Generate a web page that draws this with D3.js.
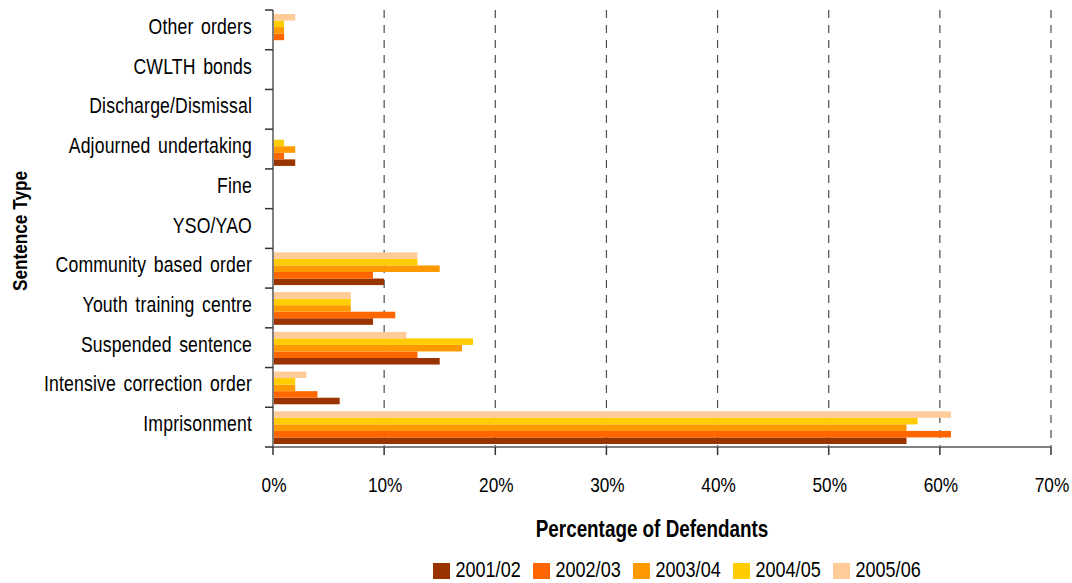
<!DOCTYPE html>
<html><head><meta charset="utf-8">
<script src="https://cdn.jsdelivr.net/npm/d3@7"></script>
<style>
body{margin:0;background:#fff;}
text{fill:#000;}
</style></head>
<body><svg id="c" width="1072" height="583"></svg>
<script>
const categories = ["Other orders","CWLTH bonds","Discharge/Dismissal","Adjourned undertaking","Fine","YSO/YAO","Community based order","Youth training centre","Suspended sentence","Intensive correction order","Imprisonment"];
const seriesNames = ["2001/02","2002/03","2003/04","2004/05","2005/06"];
const v2001 = [0,0,0,2,0,0,10,9,15,6,57];
const v2002 = [1,0,0,1,0,0,9,11,13,4,61];
const v2003 = [1,0,0,2,0,0,15,7,17,2,57];
const v2004 = [1,0,0,1,0,0,13,7,18,2,58];
const v2005 = [2,0,0,0,0,0,13,7,12,3,61];
const colors = ["#993300","#FF6600","#FF9900","#FFCC00","#FFCC99"];
const xTicks = [0,10,20,30,40,50,60,70];

const seriesValues = [v2001,v2002,v2003,v2004,v2005];
const svg = d3.select("#c");
const mLeft = 273, mRight = 1051, mTop = 10, mBottom = 447;

// font detection: use narrow font if installed, else horizontally scale regular font
const probe = svg.append("text").attr("font-size",40).text("Percentage Defendants");
probe.attr("font-family","'Liberation Sans Narrow', monospace");
const wN = probe.node().getComputedTextLength();
probe.attr("font-family","monospace");
const wM = probe.node().getComputedTextLength();
probe.remove();
const hasNarrow = Math.abs(wN - wM) > 1;
const FONT = hasNarrow ? "'Liberation Sans Narrow', 'Arial Narrow', sans-serif" : "'Liberation Sans', Arial, sans-serif";
const SX = hasNarrow ? 1 : 0.82;
function place(sel, fx, fy) {
  return sel.attr("font-family", FONT)
    .attr("transform", (d,i)=>`translate(${fx(d,i)},${fy(d,i)}) scale(${SX},1)`);
}

const x = d3.scaleLinear().domain([0,70]).range([mLeft,mRight]);
const y = d3.scaleBand().domain(categories).range([mTop,mBottom]).paddingInner(0).paddingOuter(0);
const yInner = d3.scaleBand().domain(seriesNames.slice().reverse()).range([4,y.bandwidth()-3]);

svg.append("g").selectAll("line").data(xTicks.filter(d=>d>0)).join("line")
  .attr("x1",d=>x(d)).attr("x2",d=>x(d)).attr("y1",mTop).attr("y2",mBottom)
  .attr("stroke","#4d4d4d").attr("stroke-width",1.2).attr("stroke-dasharray","8,7");

const rows = [];
categories.forEach((c,i)=>seriesNames.forEach((s,j)=>rows.push({c,s,j,v:seriesValues[j][i]})));
svg.append("g").selectAll("rect").data(rows.filter(d=>d.v>0)).join("rect")
  .attr("x",x(0)).attr("y",d=>y(d.c)+yInner(d.s))
  .attr("width",d=>x(d.v)-x(0)).attr("height",yInner.bandwidth())
  .attr("fill",d=>colors[d.j]);

const yAxis = svg.append("g");
yAxis.append("line").attr("x1",mLeft).attr("x2",mLeft).attr("y1",mTop).attr("y2",mBottom).attr("stroke","#808080").attr("stroke-width",2);
const bounds = categories.map(c=>y(c)).concat([mBottom]);
yAxis.selectAll("line.t").data(bounds).join("line").attr("class","t")
  .attr("x1",mLeft-8).attr("x2",mLeft).attr("y1",d=>d).attr("y2",d=>d).attr("stroke","#333").attr("stroke-width",1.5);
place(yAxis.selectAll("text").data(categories).join("text")
  .attr("text-anchor","end").attr("font-size",21.5)
  .attr("letter-spacing",0.2).attr("word-spacing",3).text(d=>d),
  d=>mLeft-21, d=>y(d)+y.bandwidth()/2+4);

const xAxis = svg.append("g");
xAxis.append("line").attr("x1",mLeft).attr("x2",mRight).attr("y1",mBottom).attr("y2",mBottom).attr("stroke","#808080").attr("stroke-width",2);
xAxis.selectAll("line.t").data(xTicks).join("line").attr("class","t")
  .attr("x1",d=>x(d)).attr("x2",d=>x(d)).attr("y1",mBottom).attr("y2",mBottom+8).attr("stroke","#333").attr("stroke-width",1.5);
place(xAxis.selectAll("text").data(xTicks).join("text")
  .attr("text-anchor","middle").attr("font-size",21).text(d=>d+"%"),
  d=>x(d)+1, d=>mBottom+45);

place(svg.append("text").datum(0).attr("text-anchor","middle").attr("font-size",23).attr("font-weight","bold").text("Percentage of Defendants"),
  ()=>652, ()=>537);
svg.append("text").attr("font-family",FONT)
  .attr("transform",`translate(27,231) rotate(-90) scale(${SX},1)`)
  .attr("text-anchor","middle").attr("font-size",21).attr("font-weight","bold").text("Sentence Type");

const lg = svg.append("g").selectAll("g").data(seriesNames).join("g")
  .attr("transform",(d,i)=>`translate(${433+i*100},563)`);
lg.append("rect").attr("width",17).attr("height",16).attr("fill",(d,i)=>colors[i]);
place(lg.append("text").attr("font-size",22).text(d=>d), ()=>22.5, ()=>13.5);
</script></body></html>
